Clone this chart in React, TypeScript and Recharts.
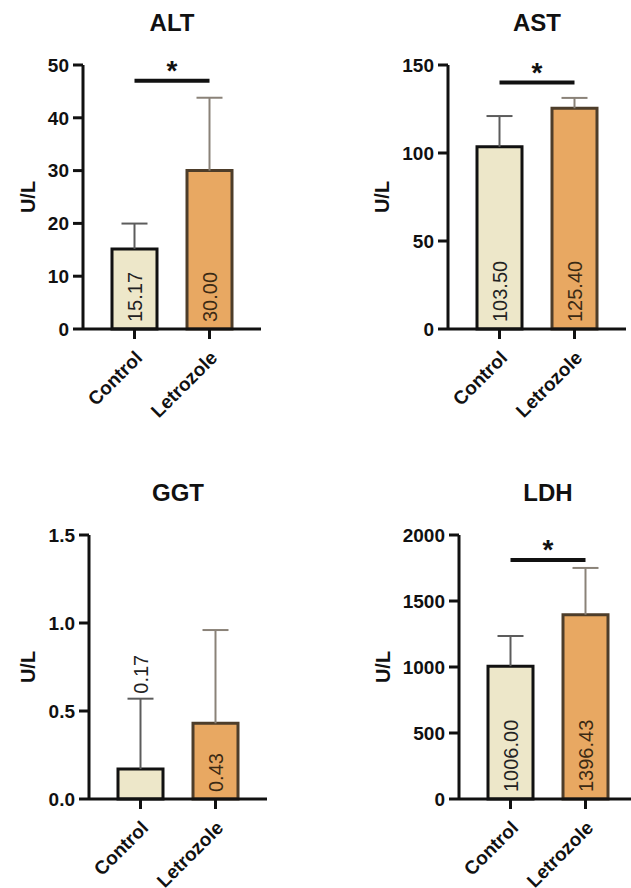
import React from 'react';
import { BarChart, Bar, XAxis, YAxis, Cell, LabelList, ReferenceLine, Label } from 'recharts';

const GROUPS = ['Control', 'Letrozole'];

const ALT_MEAN = [15.17, 30.0];
const ALT_SD = [4.8, 13.8];
const ALT_TICKS = [0, 10, 20, 30, 40, 50];
const ALT_SIG = 47;

const AST_MEAN = [103.5, 125.4];
const AST_SD = [17.5, 5.9];
const AST_TICKS = [0, 50, 100, 150];
const AST_SIG = 140;

const GGT_MEAN = [0.17, 0.43];
const GGT_SD = [0.4, 0.53];
const GGT_TICKS = [0, 0.5, 1.0, 1.5];
const GGT_SIG = null;

const LDH_MEAN = [1006.0, 1396.43];
const LDH_SD = [229, 354];
const LDH_TICKS = [0, 500, 1000, 1500, 2000];
const LDH_SIG = 1811;

const FONT = '"Liberation Sans", Arial, Helvetica, sans-serif';
const FILLS = ['#ede7c9', '#e8a862'];
const EDGES = ['#111111', '#4d3d2a'];
const WHISKERS = ['#5c5c5c', '#8a8278'];
const VALUE_INK = ['#222222', '#3b2a14'];
const INK = '#111111';

const W = 330;
const H = 440;
const AXIS_OFF = 100; // y axis x inside each chart
const Y_W = 80;
const PLOT_W = 178;
const PLOT_H = 264;
const PLOT_TOP = 65;

const XTick = (props: any) => {
  const { x, y, payload } = props;
  return (
    <g transform={`translate(${x + 9},${y + 18}) rotate(-45)`}>
      <text x={0} y={0} textAnchor="end" fontSize={19} fontWeight="bold" fill={INK} fontFamily={FONT}>
        {payload.value}
      </text>
    </g>
  );
};

// whisker drawn on the stacked "sd" segment, from the bar top up to mean + sd
const Whisker = (p: any) => {
  const { x, y, width, height } = p;
  let i = typeof p.index === 'number' ? p.index : GROUPS.indexOf(p.payload?.name);
  if (i < 0) i = 0;
  const cx = x + width / 2;
  return (
    <g>
      <line x1={cx} x2={cx} y1={y + height} y2={y} stroke={WHISKERS[i]} strokeWidth={2} />
      <line x1={cx - 13} x2={cx + 13} y1={y} y2={y} stroke={WHISKERS[i]} strokeWidth={2} />
    </g>
  );
};

function Panel(props: any) {
  const { title, means, sds, ticks, sig, fmt, left, top, unitDist } = props;
  const rows = GROUPS.map((g, i) => ({ name: g, mean: means[i], sd: sds[i] }));
  const yMax = ticks[ticks.length - 1];

  const valueLabel = (p: any) => {
    const vb = p.viewBox ?? p;
    const { x, y, width, height } = vb;
    const idx = means.indexOf(Number(p.value));
    const txt = Number(p.value).toFixed(2);
    const cx = x + width / 2;
    let sy = y + height - 7;
    if (txt.length * 11 + 12 > height) {
      const ppu = height / Number(p.value);
      sy = y - sds[idx] * ppu - 5;
    }
    return (
      <text
        transform={`translate(${cx},${sy}) rotate(-90)`}
        textAnchor="start"
        dominantBaseline="central"
        fontSize={20}
        fill={VALUE_INK[idx]}
        fontFamily={FONT}
      >
        {txt}
      </text>
    );
  };

  return (
    <div style={{ position: 'absolute', left, top, width: W, height: H }}>
      <div
        style={{
          position: 'absolute',
          left: AXIS_OFF + PLOT_W / 2 - 100,
          top: 9,
          width: 200,
          lineHeight: '28px',
          textAlign: 'center',
          fontFamily: FONT,
          fontWeight: 'bold',
          fontSize: 24,
          color: INK,
        }}
      >
        {title}
      </div>
      <BarChart
        width={W}
        height={H}
        data={rows}
        margin={{ top: PLOT_TOP, right: W - AXIS_OFF - PLOT_W, bottom: H - PLOT_TOP - PLOT_H - 70, left: AXIS_OFF - Y_W }}
      >
        <XAxis
          dataKey="name"
          height={70}
          interval={0}
          padding={{ left: 14, right: 14 }}
          axisLine={{ stroke: INK, strokeWidth: 3 }}
          tickLine={{ stroke: INK, strokeWidth: 3 }}
          tickSize={10}
          tick={<XTick />}
        />
        <YAxis
          width={Y_W}
          type="number"
          domain={[0, yMax]}
          ticks={ticks}
          interval={0}
          tickFormatter={fmt}
          axisLine={{ stroke: INK, strokeWidth: 3 }}
          tickLine={{ stroke: INK, strokeWidth: 3 }}
          tickSize={10}
          tickMargin={4}
          tick={{ fontSize: 19, fontWeight: 'bold', fill: INK, fontFamily: FONT }}
        >
          <Label
            value="U/L"
            angle={-90}
            position="insideLeft"
            offset={Y_W - unitDist}
            style={{ textAnchor: 'middle', fontSize: 20, fontWeight: 'bold', fill: INK, fontFamily: FONT }}
          />
        </YAxis>
        <Bar dataKey="mean" stackId="s" barSize={45} isAnimationActive={false}>
          {rows.map((r, i) => (
            <Cell key={r.name} fill={FILLS[i]} stroke={EDGES[i]} strokeWidth={3} />
          ))}
          <LabelList dataKey="mean" content={valueLabel} />
        </Bar>
        <Bar dataKey="sd" stackId="s" barSize={45} shape={<Whisker />} isAnimationActive={false} />
        {sig != null && (
          <ReferenceLine
            segment={[
              { x: GROUPS[0], y: sig },
              { x: GROUPS[1], y: sig },
            ]}
            stroke={INK}
            strokeWidth={4}
          >
            <Label value="*" position="top" offset={1} fontSize={28} fontWeight="bold" fill={INK} fontFamily={FONT} />
          </ReferenceLine>
        )}
      </BarChart>
    </div>
  );
}

const intFmt = (v: number) => String(v);
const oneFmt = (v: number) => v.toFixed(1);

export default function App() {
  return (
    <div
      style={{
        position: 'absolute',
        left: 0,
        top: 0,
        width: 631,
        height: 888,
        overflow: 'hidden',
        background: '#ffffff',
      }}
    >
      <Panel title="ALT" means={ALT_MEAN} sds={ALT_SD} ticks={ALT_TICKS} sig={ALT_SIG} fmt={intFmt} left={83 - AXIS_OFF} top={0} unitDist={55} />
      <Panel title="AST" means={AST_MEAN} sds={AST_SD} ticks={AST_TICKS} sig={AST_SIG} fmt={intFmt} left={448 - AXIS_OFF} top={0} unitDist={66} />
      <Panel title="GGT" means={GGT_MEAN} sds={GGT_SD} ticks={GGT_TICKS} sig={GGT_SIG} fmt={oneFmt} left={89 - AXIS_OFF} top={470} unitDist={61} />
      <Panel title="LDH" means={LDH_MEAN} sds={LDH_SD} ticks={LDH_TICKS} sig={LDH_SIG} fmt={intFmt} left={459 - AXIS_OFF} top={470} unitDist={76} />
    </div>
  );
}
